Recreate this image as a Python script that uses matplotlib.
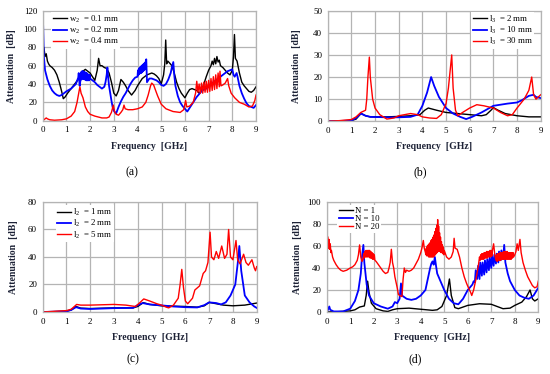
import matplotlib
matplotlib.use('Agg')
import matplotlib.pyplot as plt

# 字体：Times 风格
plt.rcParams['font.family'] = ['Liberation Serif', 'DejaVu Serif']
plt.rcParams['mathtext.fontset'] = 'custom'
plt.rcParams['mathtext.rm'] = 'Liberation Serif'
plt.rcParams['mathtext.it'] = 'Liberation Serif'

# ---------------- (a) w2 ----------------
a_black_x = [0.02, 0.05, 0.1, 0.15, 0.2, 0.25, 0.3, 0.4, 0.5, 0.6, 0.7, 0.8, 0.87, 0.95, 1.05, 1.2, 1.35, 1.5,
             1.6, 1.7, 1.8, 1.9, 2.0, 2.1, 2.2, 2.3, 2.36, 2.42, 2.5, 2.6, 2.7, 2.8, 2.9, 3.0, 3.1, 3.2, 3.3,
             3.4, 3.5, 3.6, 3.75, 3.9, 4.0, 4.1, 4.2, 4.3, 4.4, 4.5, 4.6, 4.7, 4.8, 4.9, 5.0, 5.1, 5.15, 5.19,
             5.23, 5.28, 5.35, 5.45, 5.55, 5.65, 5.75, 5.85, 6.0, 6.1, 6.2, 6.3, 6.4, 6.5, 6.6, 6.7, 6.8, 6.9,
             7.0, 7.1, 7.15, 7.2, 7.25, 7.3, 7.35, 7.4, 7.45, 7.5, 7.6, 7.7, 7.8, 7.9, 8.0, 8.05, 8.09, 8.13,
             8.2, 8.3, 8.4, 8.5, 8.6, 8.7, 8.8, 8.9, 9.0]
a_black_y = [70, 80, 70, 73, 65, 62, 60, 58, 55, 50, 42, 32, 24, 26, 30, 35, 40, 45,
             50, 54, 56, 54, 52, 48, 44, 55, 68, 60, 60, 58, 57, 52, 42, 30, 27, 33, 45,
             42, 38, 33, 28, 33, 38, 42, 46, 48, 50, 51, 52, 51, 49, 46, 40, 50, 62, 88,
             62, 65, 63, 60, 52, 42, 35, 30, 25, 30, 34, 35, 34, 33, 30, 33, 40, 48,
             55, 60, 65, 61, 68, 62, 70, 64, 66, 60, 58, 55, 52, 50, 55, 70, 94, 68,
             65, 52, 42, 38, 35, 32, 31, 33, 37]

a_blue_x = [0.02, 0.05, 0.1, 0.2, 0.3, 0.4, 0.5, 0.6, 0.7, 0.8, 1.0, 1.2, 1.4, 1.5, 1.52, 1.56, 1.6,
            1.62, 1.64, 1.66, 1.68, 1.7, 1.72, 1.74, 1.76, 1.78, 1.8, 1.82, 1.84, 1.86, 1.88, 1.9, 1.92,
            1.94, 1.96, 1.98, 2.0,
            2.1, 2.2, 2.3, 2.4, 2.5, 2.6, 2.65, 2.7, 2.73, 2.76, 2.8, 2.85, 2.9, 2.95, 3.0, 3.05, 3.1,
            3.2, 3.3, 3.4, 3.5, 3.6, 3.7, 3.8, 3.9,
            4.0, 4.02, 4.04, 4.06, 4.08, 4.1, 4.12, 4.14, 4.16, 4.18, 4.2, 4.22, 4.24, 4.26, 4.28, 4.3,
            4.32, 4.34, 4.37, 4.4,
            4.45, 4.5, 4.6, 4.7, 4.8, 4.9, 5.0, 5.1, 5.2, 5.3, 5.4, 5.45, 5.51, 5.55, 5.6, 5.7, 5.8, 5.9,
            6.0, 6.1, 6.2, 6.3, 6.4, 6.5, 6.6, 6.7, 6.8, 6.9, 7.0, 7.1, 7.2, 7.3, 7.4, 7.5, 7.6, 7.7, 7.8,
            7.9, 8.0, 8.05, 8.1, 8.18, 8.22, 8.3, 8.4, 8.5, 8.6, 8.7, 8.8, 8.9, 9.0]
a_blue_y = [103, 70, 55, 45, 38, 33, 30, 28, 27, 28, 32, 35, 40, 47, 52, 38, 45,
            53, 45, 54, 46, 54, 46, 53, 45, 53, 45, 52, 44, 52, 44, 51, 44,
            50, 44, 50, 46,
            44, 42, 39, 37, 35, 37, 42, 50, 58, 48, 38, 30, 22, 15, 11, 9, 8,
            15, 21, 26, 30, 35, 40, 44, 47,
            48, 55, 50, 57, 51, 58, 52, 59, 52, 60, 53, 61, 54, 62, 55, 63,
            56, 64, 67, 42,
            44, 46, 46, 45, 44, 42, 39, 38, 40, 45, 52, 58, 64, 50, 38, 27, 20, 16,
            13, 10, 14, 18, 22, 26, 29, 32, 34, 35, 37, 40, 42, 44, 46, 48, 50, 52, 54,
            55, 56, 50, 48, 52, 48, 38, 30, 24, 19, 16, 15, 14, 17]

a_red_x = [0.0, 0.1, 0.15, 0.2, 0.3, 0.5, 0.8, 1.0, 1.2, 1.35, 1.45, 1.52, 1.57, 1.62, 1.7, 1.8, 1.9, 2.0,
           2.2, 2.5, 2.7, 2.8, 2.9, 2.98, 3.03, 3.1, 3.2, 3.3, 3.38, 3.43, 3.48, 3.6, 3.8, 4.0, 4.2, 4.35,
           4.45, 4.55, 4.6, 4.68, 4.75, 4.85, 5.0, 5.2, 5.5, 5.8, 5.95, 6.03, 6.08, 6.2, 6.35, 6.45, 6.5,
           6.55, 6.6, 6.65, 6.7, 6.75, 6.8, 6.85, 6.9, 6.95, 7.0, 7.05, 7.1, 7.15, 7.2, 7.25, 7.3, 7.35,
           7.4, 7.45, 7.48, 7.52, 7.6, 7.7, 7.8, 7.85, 7.95, 8.1, 8.3, 8.5, 8.7, 8.85, 8.95, 9.0]
a_red_y = [0, 2, 3, 2, 1, 0.5, 1, 2, 5, 10, 20, 30, 37, 30, 25, 15, 10, 7,
           5, 3, 3, 4, 9, 17, 10, 7, 6, 9, 12, 17, 13, 12, 12, 13, 15, 20,
           28, 38, 41, 39, 34, 27, 18, 13, 10, 9, 12, 22, 15, 16, 20, 30, 43,
           31, 40, 30, 41, 30, 42, 31, 43, 31, 44, 32, 46, 33, 48, 34, 50, 35,
           52, 37, 54, 38, 39, 41, 46, 38, 30, 25, 20, 18, 15, 16, 22, 28]

# ---------------- (b) l3 ----------------
b_black_x = [0, 1.0, 1.2, 1.41, 1.6, 1.8, 2.5, 3.0, 3.5, 3.9, 4.1, 4.25, 4.6, 5.0, 5.5, 6.0, 6.5, 6.7, 6.9,
             7.0, 7.2, 7.5, 8.0, 8.5, 9.0]
b_black_y = [0, 0.3, 1, 3.6, 2.5, 2, 2, 2.2, 2.5, 3, 5, 6, 5, 4, 3.5, 3, 2.5, 3, 5,
             6.2, 5, 3.5, 2.5, 2, 2]

b_blue_x = [0, 1.0, 1.2, 1.4, 1.6, 1.8, 2.5, 3.0, 3.5, 3.8, 4.0, 4.2, 4.37, 4.5, 4.7, 5.0, 5.3, 5.6, 5.85,
            6.1, 6.5, 7.0, 7.3, 7.6, 8.0, 8.2, 8.5, 8.7, 8.8, 9.0]
b_blue_y = [0, 0.3, 1.5, 3.5, 2.5, 2, 1.8, 1.8, 2, 3, 7, 13, 20, 16, 11, 6, 3.5, 2, 1,
            2, 4, 7, 7.5, 8, 8.5, 9.5, 11.5, 12, 11, 10.5]

b_red_x = [0, 0.5, 1.0, 1.2, 1.4, 1.5, 1.6, 1.65, 1.7, 1.76, 1.8, 1.9, 2.0, 2.2, 2.5, 2.8, 3.0, 3.5, 3.8,
           4.0, 4.3, 4.6, 4.8, 5.0, 5.1, 5.24, 5.3, 5.4, 5.5, 5.7, 6.0, 6.3, 6.6, 7.0, 7.3, 7.6, 7.8, 8.0,
           8.3, 8.5, 8.62, 8.7, 8.8, 8.9, 9.0]
b_red_y = [0, 0.3, 0.8, 2, 4, 4.5, 5, 10, 20, 29, 20, 10, 6, 3, 1, 1.5, 2.5, 3.5, 3,
           2, 1.5, 1.3, 3, 8, 15, 30, 15, 5, 2.5, 4, 6, 7.5, 7, 6, 4, 2.5, 3, 6,
           10, 14, 20, 12, 10, 11, 12]

# ---------------- (c) l2 ----------------
c_black_x = [0, 1.0, 1.2, 1.4, 1.6, 2.0, 3.0, 3.8, 4.0, 4.23, 4.5, 5.0, 6.0, 6.5, 6.8, 7.0, 7.3, 7.6, 8.0,
             8.5, 9.0]
c_black_y = [0, 0.5, 1.5, 4, 2.8, 2.5, 3, 3, 4, 6.8, 5.5, 4.5, 4, 3.5, 4.5, 7, 6, 5, 4.5,
             5, 6.5]

c_blue_x = [0, 1.0, 1.2, 1.4, 1.6, 2.0, 3.0, 3.8, 4.0, 4.2, 4.5, 5.0, 5.5, 6.0, 6.5, 6.8, 7.0, 7.3, 7.5,
            7.7, 7.9, 8.1, 8.2, 8.27, 8.35, 8.5, 8.7, 8.9, 9.0]
c_blue_y = [0, 0.5, 1.5, 3.5, 2.5, 2.2, 2.8, 3, 5, 6.5, 5.5, 4.8, 4, 3.5, 3.3, 5, 7, 6.5, 5.5,
            7, 12, 20, 35, 48, 30, 12, 7, 4, 3]

c_red_x = [0, 1.0, 1.2, 1.43, 1.6, 2.0, 3.0, 3.5, 3.9, 4.1, 4.25, 4.5, 4.8, 5.0, 5.2, 5.3, 5.5, 5.7, 5.78,
           5.85, 5.92, 6.0, 6.1, 6.3, 6.4, 6.6, 6.75, 6.85, 6.95, 7.04, 7.1, 7.2, 7.3, 7.4, 7.53, 7.65,
           7.75, 7.82, 7.9, 8.0, 8.13, 8.2, 8.3, 8.45, 8.55, 8.65, 8.8, 8.9, 8.95, 9.0]
c_red_y = [0, 1, 2, 5.5, 5, 5, 5.5, 5, 4, 7, 9.5, 8, 6, 5, 3.5, 3, 5, 10, 20,
           31, 18, 8, 6, 10, 16, 19, 28, 30, 36, 58, 40, 38, 44, 39, 48, 39,
           42, 60, 40, 38, 52, 38, 35, 42, 36, 34, 38, 32, 30, 33]

# ---------------- (d) N ----------------
d_black_x = [0, 0.5, 1.0, 1.2, 1.4, 1.6, 1.68, 1.74, 1.8, 1.9, 2.1, 2.4, 2.6, 2.8, 3.0, 3.5, 4.0, 4.5, 4.7,
             4.9, 5.1, 5.22, 5.3, 5.45, 5.6, 6.0, 6.5, 7.0, 7.5, 7.8, 8.0, 8.3, 8.5, 8.65, 8.75, 8.85, 9.0]
d_black_y = [0, 0.3, 1, 2, 4.5, 5.5, 15, 28, 18, 8, 3, 1, 0.5, 2, 3, 3.5, 2.5, 1.5, 2,
             5, 15, 30, 15, 4, 3, 6, 7.5, 7, 3, 3.5, 6, 9, 14, 20, 12, 10, 12]

d_blue_x = [0, 0.05, 0.11, 0.15, 0.3, 0.7, 1.0, 1.2, 1.35, 1.45, 1.5, 1.56, 1.6, 1.7, 1.8, 2.0, 2.3, 2.6,
            2.8, 2.9, 3.0, 3.1, 3.16, 3.2, 3.4, 3.6, 3.8, 4.0, 4.2, 4.3, 4.4, 4.45, 4.5, 4.55, 4.6, 4.65,
            4.7, 4.8, 5.0, 5.2, 5.4, 5.6, 5.8, 6.0, 6.2, 6.25, 6.3, 6.34, 6.4, 6.44, 6.5, 6.53, 6.6, 6.63,
            6.7, 6.73, 6.8, 6.83, 6.9, 6.93, 7.0, 7.03, 7.1, 7.13, 7.2, 7.23, 7.3, 7.33, 7.4, 7.43, 7.5,
            7.55, 7.6, 7.7, 7.8, 8.0, 8.2, 8.4, 8.6, 8.8, 9.0]
d_blue_y = [0, 2, 5, 2, 0.5, 0.5, 3, 10, 20, 35, 50, 61, 45, 25, 15, 8, 5, 3,
            5, 9, 8, 12, 26, 15, 12, 11, 12, 15, 20, 30, 40, 44, 46, 43, 50, 42,
            35, 30, 20, 12, 8, 7, 12, 20, 25, 28, 27, 38, 30, 42, 30, 45, 33, 45,
            34, 47, 36, 48, 38, 50, 40, 51, 42, 52, 44, 53, 45, 55, 47, 56, 48,
            61, 45, 35, 28, 20, 15, 13, 12, 15, 22]

d_red_x = [0.05, 0.08, 0.1, 0.12, 0.15, 0.18, 0.2, 0.25, 0.3, 0.4, 0.5, 0.6, 0.7, 0.85, 1.0, 1.1, 1.2, 1.3,
           1.35, 1.4, 1.45, 1.5,
           1.55, 1.575, 1.6, 1.625, 1.65, 1.675, 1.7, 1.725, 1.75, 1.775, 1.8, 1.825, 1.85, 1.875, 1.9,
           1.925, 1.95, 1.975, 2.0, 2.025, 2.05,
           2.1, 2.2, 2.3, 2.4, 2.5, 2.6, 2.65, 2.7, 2.75, 2.8, 2.85, 2.9, 3.0, 3.05, 3.1, 3.2, 3.25, 3.3,
           3.35, 3.4, 3.5, 3.6, 3.7, 3.8, 3.9, 4.0, 4.05, 4.11, 4.15, 4.2,
           4.22, 4.24, 4.26, 4.28, 4.3, 4.32, 4.34, 4.36, 4.38, 4.4, 4.42, 4.44, 4.46, 4.48, 4.5, 4.52,
           4.54, 4.56, 4.58, 4.6, 4.62, 4.64, 4.66, 4.68, 4.7, 4.72, 4.74, 4.76, 4.78, 4.8, 4.82, 4.84,
           4.86, 4.88, 4.9, 4.92, 4.94, 4.96, 4.98, 5.0,
           5.1, 5.2, 5.3, 5.38, 5.42, 5.46, 5.55, 5.65, 5.75, 5.85, 5.95, 6.05, 6.12, 6.17, 6.25, 6.35,
           6.45, 6.5,
           6.525, 6.55, 6.575, 6.6, 6.625, 6.65, 6.675, 6.7, 6.725, 6.75, 6.775, 6.8, 6.825, 6.85, 6.875,
           6.9, 6.925, 6.95, 6.975, 7.0, 7.025, 7.05,
           7.1, 7.15, 7.2,
           7.225, 7.25, 7.275, 7.3, 7.325, 7.35, 7.375, 7.4, 7.425, 7.45, 7.475, 7.5, 7.525, 7.55, 7.575,
           7.6, 7.625, 7.65, 7.675, 7.7, 7.725, 7.75, 7.775, 7.8, 7.825, 7.85, 7.875, 7.9, 7.925, 7.95,
           8.0, 8.05, 8.1, 8.15, 8.22, 8.27, 8.35, 8.45, 8.55, 8.65, 8.75, 8.85, 8.95, 9.0]
d_red_y = [68, 58, 66, 57, 62, 54, 56, 50, 47, 43, 40, 38, 37, 38, 40, 41, 43, 47,
           52, 61, 50, 46,
           48, 53, 49, 55, 50, 56, 50, 56, 50, 56, 50, 56, 49, 55, 49,
           54, 48, 53, 48, 52, 47,
           46, 43, 40, 37, 35, 36, 40, 45, 57, 45, 40, 32, 22, 16, 15, 14, 30, 40,
           36, 38, 37, 38, 40, 44, 48, 54, 58, 65, 58, 54,
           52, 58, 51, 60, 51, 61, 50, 62, 50, 63, 50, 65, 50, 66, 50, 68,
           50, 70, 51, 73, 52, 76, 53, 79, 54, 84, 55, 78, 55, 72, 55, 68,
           54, 64, 54, 61, 53, 59, 52, 56,
           50, 48, 50, 55, 67, 58, 57, 50, 40, 32, 26, 21, 18, 15, 20, 30,
           42, 50,
           47, 52, 48, 53, 48, 53, 48, 54, 49, 54, 49, 55, 49, 55, 50,
           55, 50, 56, 50, 56, 51, 56,
           62, 52, 47,
           52, 46, 53, 47, 53, 47, 54, 47, 54, 48, 54, 48, 55, 48, 55,
           48, 55, 48, 55, 48, 54, 48, 54, 48, 54, 48, 54, 49, 54, 50,
           52, 55, 62, 56, 66, 54, 45, 38, 32, 28, 24, 22, 23, 28]

# 图例文字与坐标轴范围
a_labels = ['w$_2$  = 0.1 mm', 'w$_2$  = 0.2 mm', 'w$_2$  = 0.4 mm']
b_labels = ['l$_3$  = 2 mm', 'l$_3$  = 10 mm', 'l$_3$  = 30 mm']
c_labels = ['l$_2$  = 1 mm', 'l$_2$  = 2 mm', 'l$_2$  = 5 mm']
d_labels = ['N = 1', 'N = 10', 'N = 20']
a_yticks = [0, 20, 40, 60, 80, 100, 120]
b_yticks = [0, 10, 20, 30, 40, 50]
c_yticks = [0, 20, 40, 60, 80]
d_yticks = [0, 20, 40, 60, 80, 100]
freq_ticks = [0, 1, 2, 3, 4, 5, 6, 7, 8, 9]

LABEL_COLOR = '#1d2236'
GRID_COLOR = '#b4b4b4'

fig = plt.figure(figsize=(5.5, 3.74), dpi=100)


def setup_axes(rect, yticks, ylab_x):
    ax = fig.add_axes(rect)
    ax.set_xlim(0, 9)
    ax.set_ylim(yticks[0], yticks[-1])
    ax.set_xticks(freq_ticks)
    ax.set_yticks(yticks)
    ax.grid(True, color=GRID_COLOR, linewidth=0.9)
    ax.set_axisbelow(True)
    for s in ax.spines.values():
        s.set_color(GRID_COLOR)
        s.set_linewidth(0.9)
    ax.tick_params(length=0, labelsize=6.5, pad=4, colors='black')
    ax.set_xlabel('Frequency  [GHz]', fontsize=7, fontweight='bold', color=LABEL_COLOR)
    ax.set_ylabel('Attenuation  [dB]', fontsize=7, fontweight='bold', color=LABEL_COLOR)
    ax.xaxis.set_label_coords(0.5, -0.19)
    ax.yaxis.set_label_coords(ylab_x, 0.5)
    return ax


def draw(ax, xs, ys, labels, loc, anchor):
    colors = ['black', '#0000ff', '#ff0000']
    widths = [1.0, 1.3, 1.0]
    for x, y, lab, c, w in zip(xs, ys, labels, colors, widths):
        ax.plot(x, y, color=c, linewidth=w, label=lab)
    leg = ax.legend(loc=loc, bbox_to_anchor=anchor, fontsize=6.3, frameon=True, fancybox=False,
                    framealpha=1.0, edgecolor='none', handlelength=1.6, handletextpad=0.2,
                    labelspacing=0.0, borderpad=0.2, borderaxespad=0.0)
    leg.get_frame().set_linewidth(0)


ax_a = setup_axes([0.0776, 0.6773, 0.3879, 0.2941], a_yticks, -0.125)
draw(ax_a, [a_black_x, a_blue_x, a_red_x], [a_black_y, a_blue_y, a_red_y], a_labels,
     'upper left', (0.04, 0.99))

ax_b = setup_axes([0.5958, 0.6757, 0.3873, 0.2957], b_yticks, -0.125)
draw(ax_b, [b_black_x, b_blue_x, b_red_x], [b_black_y, b_blue_y, b_red_y], b_labels,
     'upper right', (0.97, 0.99))

ax_c = setup_axes([0.0776, 0.1658, 0.3891, 0.2941], c_yticks, -0.115)
draw(ax_c, [c_black_x, c_blue_x, c_red_x], [c_black_y, c_blue_y, c_red_y], c_labels,
     'upper left', (0.06, 0.97))

ax_d = setup_axes([0.594, 0.1658, 0.3847, 0.2941], d_yticks, -0.115)
draw(ax_d, [d_black_x, d_blue_x, d_red_x], [d_black_y, d_blue_y, d_red_y], d_labels,
     'upper left', (0.05, 0.97))

# 子图编号
fig.text(132 / 550, 1 - 172 / 374, '(a)', fontsize=8.5, ha='center', va='center')
fig.text(420 / 550, 1 - 172 / 374, '(b)', fontsize=8.5, ha='center', va='center')
fig.text(133 / 550, 1 - 359 / 374, '(c)', fontsize=8.5, ha='center', va='center')
fig.text(415 / 550, 1 - 359 / 374, '(d)', fontsize=8.5, ha='center', va='center')

fig.savefig('out.png', dpi=100)
